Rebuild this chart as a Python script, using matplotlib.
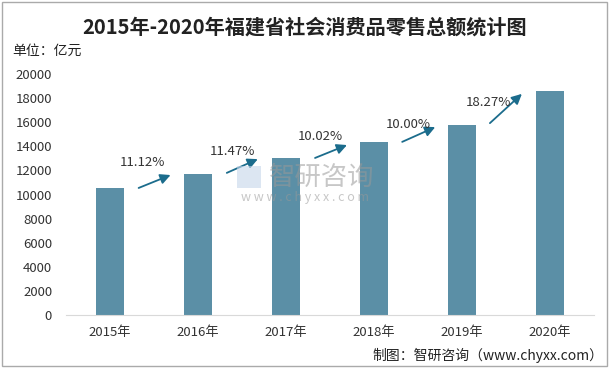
import numpy as np
import matplotlib.pyplot as plt
from matplotlib.patches import Rectangle

plt.rcParams['font.family'] = ['Noto Sans CJK SC', 'DejaVu Sans']

years = ['2015年', '2016年', '2017年', '2018年', '2019年', '2020年']
sales = [10506, 11675, 13013, 14317, 15750, 18627]
growth = ['11.12%', '11.47%', '10.02%', '10.00%', '18.27%']
yticks = [0, 2000, 4000, 6000, 8000, 10000, 12000, 14000, 16000, 18000, 20000]

bar_color = '#5b8fa6'
arrow_color = '#1b6c8c'

W, H = 611, 369
fig = plt.figure(figsize=(W / 100, H / 100), dpi=100)
ax = fig.add_axes([66 / W, 1 - 315 / H, 528 / W, 241 / H])

x = np.arange(len(years))
ax.bar(x, sales, width=0.31, color=bar_color)
ax.set_xlim(-0.5, 5.5)
ax.set_ylim(0, 20000)
ax.set_xticks(x)
ax.set_xticklabels(years, fontsize=9.5, color='#333333')
ax.set_yticks(yticks)
ax.set_yticklabels([str(v) for v in yticks], fontsize=9.5, color='#333333')
ax.tick_params(length=0, pad=10)
ax.tick_params(axis='x', pad=8)
for s in ['top', 'right', 'left']:
    ax.spines[s].set_visible(False)
ax.spines['bottom'].set_color('#d9d9d9')


def px(xp, yp):
    # pixel position in the picture -> data coordinates
    return (xp - 110) / 87.8, (315 - yp) / 241 * 20000


# growth arrows (start px, end px) and label centres
arrows = [((136, 189), (173, 174)), ((224, 174), (260, 158)),
          ((312, 159), (349, 144)), ((399, 143), (437, 126)),
          ((487, 125), (523, 92))]
labels = [(142, 162), (232, 152), (320, 137), (408, 124), (488, 103)]
for (a, b), (lx, ly), g in zip(arrows, labels, growth):
    ax.annotate('', xy=px(*b), xytext=px(*a),
                arrowprops=dict(arrowstyle='-|>,head_length=0.6,head_width=0.3',
                                color=arrow_color, lw=1.3))
    ax.text(*px(lx, ly), g, fontsize=9.5, color='#333333', ha='center', va='center')

# watermark
ax.add_patch(Rectangle(px(237, 188), 24 / 87.8, 22 / 241 * 20000,
                       facecolor='#c5d6ea', alpha=0.6, edgecolor='none', zorder=3))
fig.text(322 / W, 1 - 177 / H, '智研咨询', fontsize=19, color='#999999', alpha=0.55,
         ha='center', va='center')
fig.text(305 / W, 1 - 197 / H, 'w w w . c h y x x . c o m', fontsize=9, color='#999999',
         alpha=0.55, ha='center', va='center')

fig.text(305 / W, 1 - 27 / H, '2015年-2020年福建省社会消费品零售总额统计图',
         fontsize=14.5, fontweight='bold', color='#222222', ha='center', va='center')
fig.text(12 / W, 1 - 51 / H, '单位：亿元', fontsize=10, color='#222222', va='center')
fig.text(603 / W, 1 - 355 / H, '制图：智研咨询（www.chyxx.com）', fontsize=10,
         color='#222222', ha='right', va='center')

fig.patches.append(Rectangle((2 / W, 3 / H), 605 / W, 364 / H, transform=fig.transFigure,
                             fill=False, edgecolor='#aaaaaa', lw=1))

fig.savefig('out.png', dpi=100)
